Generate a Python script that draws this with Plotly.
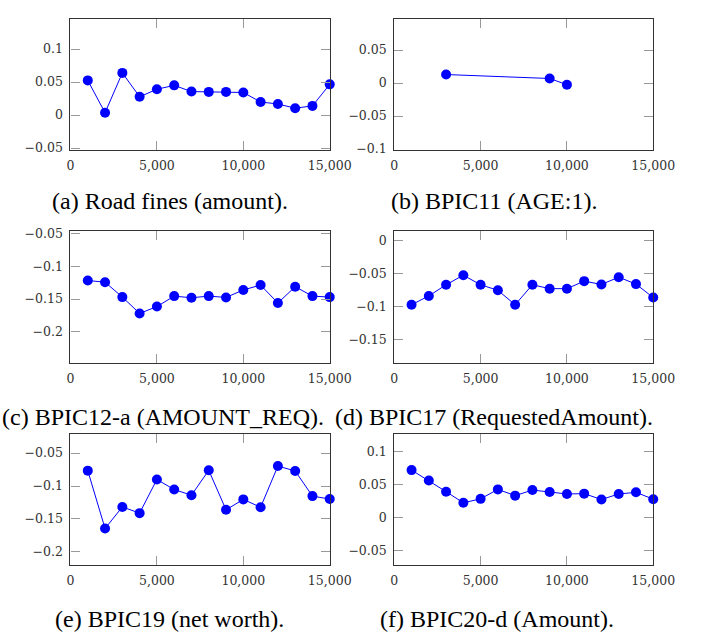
import plotly.graph_objects as go

# Sample sizes (x) shared by most panels
sizes = [1000, 2000, 3000, 4000, 5000, 6000, 7000, 8000,
         9000, 10000, 11000, 12000, 13000, 14000, 15000]

road_fines = [0.0525, 0.0035, 0.0639, 0.0277, 0.0391, 0.0450, 0.0356, 0.0351,
              0.0351, 0.0342, 0.0198, 0.0168, 0.0104, 0.0139, 0.0465]

bpic11_sizes = [3000, 9000, 10000]
bpic11 = [0.0129, 0.0069, -0.0025]

bpic12a = [-0.1218, -0.1243, -0.1470, -0.1718, -0.1614, -0.1455, -0.1480, -0.1455,
           -0.1475, -0.1361, -0.1287, -0.1560, -0.1312, -0.1455, -0.1470]

bpic17 = [-0.0975, -0.0841, -0.0672, -0.0527, -0.0672, -0.0756, -0.0975, -0.0672,
          -0.0731, -0.0731, -0.0617, -0.0667, -0.0557, -0.0662, -0.0866]

bpic19 = [-0.0767, -0.1644, -0.1317, -0.1411, -0.0901, -0.1054, -0.1139, -0.0762,
          -0.1361, -0.1203, -0.1322, -0.0698, -0.0772, -0.1153, -0.1198]

bpic20d = [0.0721, 0.0562, 0.0393, 0.0224, 0.0284, 0.0428, 0.0333, 0.0418,
           0.0388, 0.0358, 0.0363, 0.0274, 0.0358, 0.0383, 0.0279]

captions = ["(a) Road fines (amount).", "(b) BPIC11 (AGE:1).",
            "(c) BPIC12-a (AMOUNT_REQ).", "(d) BPIC17 (RequestedAmount).",
            "(e) BPIC19 (net worth).", "(f) BPIC20-d (Amount)."]

y_ranges = [[-0.0525, 0.1455], [-0.101, 0.097],
            [-0.247, -0.047], [-0.1856, 0.0138],
            [-0.2203, -0.0209], [-0.0728, 0.1273]]

series = [(sizes, road_fines), (bpic11_sizes, bpic11),
          (sizes, bpic12a), (sizes, bpic17),
          (sizes, bpic19), (sizes, bpic20d)]

W, H = 716, 639
col_x = [(69, 338), (405, 673.7)]
row_y = [(13.3, 146.7), (230, 364.3), (436.7, 571)]
cap_pos = [(172, 199), (508, 199), (165, 420), (508, 420), (172, 626), (512, 626)]

BLUE = "#0000ff"
tick_font = dict(family="DejaVu Serif, serif", size=12.5, color="#333")

fig = go.Figure()
layout = dict(width=W, height=H, margin=dict(l=0, r=0, t=0, b=0),
              paper_bgcolor="white", plot_bgcolor="white", showlegend=False)

for i, ((xs, ys), yr) in enumerate(zip(series, y_ranges)):
    r, c = divmod(i, 2)
    n = "" if i == 0 else str(i + 1)
    x0, x1 = col_x[c]
    yt, yb = row_y[r]
    fig.add_trace(go.Scatter(
        x=xs, y=ys, mode="lines+markers", xaxis="x" + n, yaxis="y" + n,
        line=dict(color=BLUE, width=1),
        marker=dict(color=BLUE, size=10, line=dict(width=0)),
        cliponaxis=False))
    common = dict(showline=True, mirror="allticks", linecolor="#333",
                  linewidth=1.2, ticks="inside", tickcolor="#999",
                  ticklen=9, tickwidth=1, showgrid=False, zeroline=False,
                  tickfont=tick_font, ticklabelstandoff=4)
    layout["xaxis" + n] = dict(common, domain=[x0 / W, x1 / W],
                               range=[0, 15000], tickvals=[0, 5000, 10000, 15000],
                               tickformat=",d", anchor="y" + n)
    layout["yaxis" + n] = dict(common, domain=[1 - yb / H, 1 - yt / H],
                               range=yr, dtick=0.05, tick0=0, anchor="x" + n)

annotations = []
for (cx, cy), text in zip(cap_pos, captions):
    annotations.append(dict(x=cx / W, y=1 - cy / H, xref="paper", yref="paper",
                            text=text, showarrow=False, xanchor="center",
                            yanchor="middle",
                            font=dict(family="Liberation Serif, serif",
                                      size=24, color="black")))
layout["annotations"] = annotations
fig.update_layout(**layout)
fig.write_html("out.html")
